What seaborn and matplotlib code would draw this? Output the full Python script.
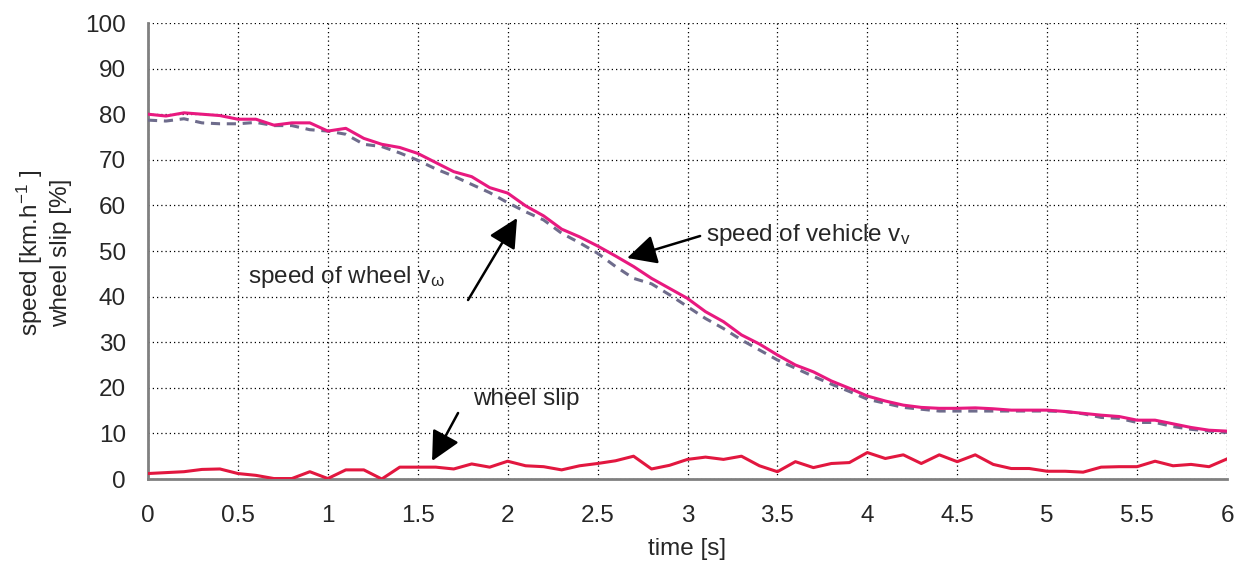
import numpy as np
import pandas as pd
import matplotlib
matplotlib.use("Agg")
import matplotlib.pyplot as plt
import seaborn as sns

time = [round(0.1 * i, 1) for i in range(61)]

speed_vehicle = [80.0, 79.6, 80.3, 80.0, 79.7, 78.9, 78.9, 77.6, 78.1, 78.1,
                 76.3, 76.9, 74.7, 73.4, 72.7, 71.4, 69.4, 67.4, 66.3, 63.9,
                 62.7, 59.9, 57.7, 54.8, 53.1, 51.1, 48.9, 46.6, 44.0, 41.8,
                 39.6, 36.7, 34.5, 31.6, 29.6, 27.2, 25.0, 23.5, 21.5, 19.9,
                 18.2, 17.1, 16.2, 15.7, 15.5, 15.5, 15.6, 15.4, 15.1, 15.1,
                 15.1, 14.8, 14.4, 14.0, 13.7, 12.9, 12.9, 12.1, 11.3, 10.7,
                 10.5]

speed_wheel = [78.7, 78.5, 79.0, 78.1, 77.9, 77.9, 78.2, 77.5, 77.5, 76.6,
               76.3, 75.6, 73.4, 72.9, 71.5, 69.9, 68.0, 66.4, 64.6, 62.8,
               60.6, 58.6, 56.8, 53.9, 51.8, 49.5, 46.6, 44.0, 42.8, 40.4,
               37.8, 35.2, 33.0, 30.5, 28.3, 26.1, 24.3, 22.5, 20.8, 19.2,
               17.5, 16.6, 15.7, 15.3, 14.9, 14.9, 14.9, 14.9, 14.9, 14.9,
               14.9, 14.8, 14.3, 13.5, 13.3, 12.4, 12.4, 11.5, 10.9, 10.5,
               10.2]

wheel_slip = [1.2, 1.4, 1.6, 2.1, 2.2, 1.2, 0.8, 0.1, 0.1, 1.6,
              0.1, 2.0, 2.0, 0.0, 2.6, 2.6, 2.6, 2.2, 3.3, 2.6,
              3.9, 2.9, 2.7, 2.0, 2.9, 3.4, 4.0, 5.0, 2.2, 3.0,
              4.3, 4.8, 4.3, 5.0, 2.9, 1.6, 3.8, 2.5, 3.4, 3.6,
              5.8, 4.5, 5.3, 3.4, 5.3, 3.8, 5.3, 3.2, 2.3, 2.3,
              1.7, 1.7, 1.5, 2.6, 2.7, 2.7, 3.9, 2.9, 3.2, 2.7,
              4.4]

x_ticks = [0, 0.5, 1, 1.5, 2, 2.5, 3, 3.5, 4, 4.5, 5, 5.5, 6]
x_tick_labels = ["0", "0.5", "1", "1.5", "2", "2.5", "3", "3.5", "4", "4.5", "5", "5.5", "6"]
y_ticks = list(range(0, 101, 10))

df = pd.DataFrame({"time": time, "vehicle": speed_vehicle,
                   "wheel": speed_wheel, "slip": wheel_slip})

sns.set_style("white")
plt.rcParams["font.family"] = ["Liberation Sans", "DejaVu Sans"]
plt.rcParams["mathtext.fontset"] = "custom"
plt.rcParams["mathtext.rm"] = "Liberation Sans"
plt.rcParams["mathtext.it"] = "Liberation Sans:italic"

FS = 17.5

fig = plt.figure(figsize=(12.38, 5.66), dpi=100)
ax = fig.add_axes([148 / 1238, 1 - 479 / 566, (1227 - 148) / 1238, (479 - 23) / 566])

sns.lineplot(data=df, x="time", y="wheel", ax=ax, color="#6E6C8C", lw=2.2,
             linestyle=(0, (3, 2.2)), zorder=3)
sns.lineplot(data=df, x="time", y="vehicle", ax=ax, color="#E8197F", lw=2.2, zorder=4)
sns.lineplot(data=df, x="time", y="slip", ax=ax, color="#E2173F", lw=2.2, zorder=4)

ax.set_xlim(0, 6)
ax.set_ylim(0, 100)
ax.set_xticks(x_ticks)
ax.set_xticklabels(x_tick_labels)
ax.set_yticks(y_ticks)
ax.grid(True, color="black", linestyle=(0, (1, 2.4)), lw=0.9)
for s in ["top", "right"]:
    ax.spines[s].set_visible(False)
for s in ["left", "bottom"]:
    ax.spines[s].set_color("#808080")
    ax.spines[s].set_linewidth(2)
ax.tick_params(axis="both", direction="out", length=7, width=1.3, color="#333333",
               labelsize=FS)
ax.tick_params(axis="x", pad=12)
ax.tick_params(axis="y", pad=9)
ax.set_xlabel("time [s]", fontsize=FS, labelpad=8)
ax.set_ylabel("")

fig.text(30 / 1238, 1 - 253 / 566, r"speed [km.h$^{-1}$ ]", rotation=90,
         ha="center", va="center", fontsize=FS)
fig.text(61 / 1238, 1 - 253 / 566, "wheel slip [%]", rotation=90,
         ha="center", va="center", fontsize=FS)

arrow = dict(arrowstyle="-|>,head_length=0.5,head_width=0.25", color="black", lw=1.8,
             mutation_scale=36, shrinkA=0, shrinkB=0)

def dx(px):
    return (px - 148) / 179.8

def dy(py):
    return (479 - py) / 4.56

ax.annotate("", xy=(dx(627), dy(258)), xytext=(dx(700), dy(236)), arrowprops=arrow, zorder=6)
ax.text(dx(706), dy(235), r"speed of vehicle v$_\mathrm{v}$", fontsize=FS,
        ha="left", va="center")

ax.annotate("", xy=(dx(517), dy(218)), xytext=(dx(468), dy(300)), arrowprops=arrow, zorder=6)
ax.text(dx(248), dy(277), r"speed of wheel v$_\mathrm{\omega}$", fontsize=FS,
        ha="left", va="center")

ax.annotate("", xy=(dx(432), dy(461)), xytext=(dx(458), dy(413)), arrowprops=arrow, zorder=6)
ax.text(dx(473), dy(399), "wheel slip", fontsize=FS, ha="left", va="center")

fig.savefig("out.png", dpi=100)
